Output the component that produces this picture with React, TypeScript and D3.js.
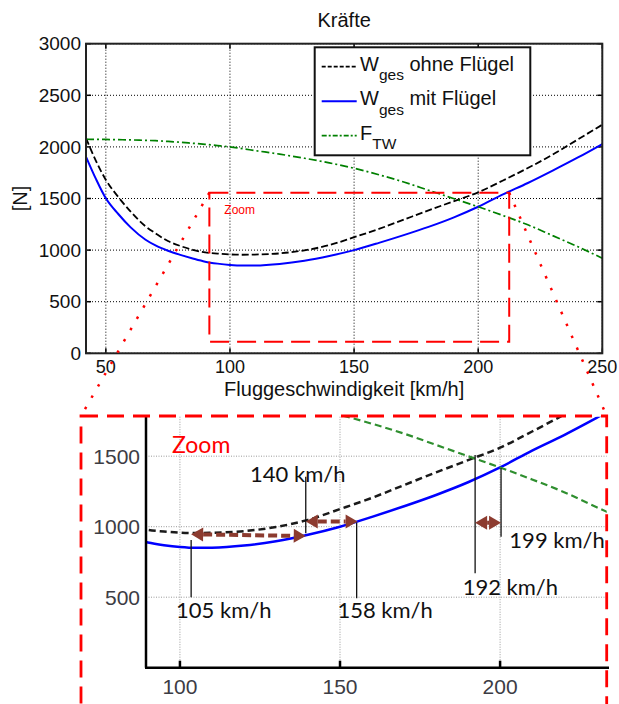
import React, { useEffect, useRef } from 'react';
import * as d3 from 'd3';

// Fluggeschwindigkeit [km/h]
const speeds = [42, 46, 50, 55, 60, 66, 70, 75, 80, 85, 90, 95, 100, 105, 110, 120, 130, 140, 150, 160, 170, 180, 190, 200, 210, 220, 230, 240, 250];
// W_ges ohne Flügel [N]
const wOhne = [2085, 1865, 1680, 1515, 1373, 1230, 1163, 1088, 1040, 1003, 977, 966, 958, 955, 957, 968, 998, 1048, 1125, 1205, 1295, 1385, 1472, 1560, 1675, 1795, 1925, 2070, 2215];
// W_ges mit Flügel [N]
const wMit = [1905, 1690, 1502, 1350, 1220, 1100, 1045, 994, 954, 919, 888, 869, 856, 850, 851, 866, 897, 943, 1000, 1070, 1145, 1225, 1315, 1420, 1540, 1650, 1770, 1895, 2028];
// F_TW [N]
const fTw = [2074, 2073, 2072, 2070, 2068, 2063, 2060, 2053, 2045, 2035, 2025, 2013, 2000, 1983, 1965, 1930, 1890, 1845, 1793, 1730, 1660, 1580, 1500, 1420, 1335, 1245, 1140, 1035, 921];

const xTicks = [50, 100, 150, 200, 250];
const yTicks = [0, 500, 1000, 1500, 2000, 2500, 3000];
const zoomXTicks = [100, 150, 200];
const zoomYTicks = [500, 1000, 1500];

// zoom window in data units (speed, force)
const zoomWindow = { x0: 91.7, x1: 212.5, y0: 112, y1: 1556 };

// annotations in the zoomed panel (speed / force units)
const markLabels = ['105 km/h', '140 km/h', '158 km/h', '192 km/h', '199 km/h'];
const markAt = [103.5, 139.3, 155.2, 192.2, 200.3];
const markTop = [905, 1355, 1030, 1508, 1414];
const markBottom = [500, 953, 492, 670, 929];
const labelAt = [98.8, 121.9, 149.2, 188.3, 202.9];
const labelY = [350, 1319, 350, 516, 847];

const arrowFrom = [[103.5, 946], [139.3, 1036], [192.2, 1028]];
const arrowTo = [[139.3, 934], [155.5, 1036], [200.3, 1028]];

const series = [
  { name: 'ohne', values: wOhne, color: '#000', dash: '7,3', width: 1.8 },
  { name: 'mit', values: wMit, color: '#0000ff', dash: null, width: 2 },
  { name: 'ftw', values: fTw, color: '#008000', dash: '8,3,2,3', width: 1.7 },
];

const App = () => {
  const ref = useRef<SVGSVGElement>(null);

  useEffect(() => {
    const svg = d3.select(ref.current);
    svg.selectAll('*').remove();
    const font = '"Liberation Sans", Arial, sans-serif';

    // ---------- main chart ----------
    const x = d3.scaleLinear().domain([42, 250]).range([86, 602.3]);
    const y = d3.scaleLinear().domain([0, 3000]).range([353.3, 43.7]);
    const [left, right] = x.range();
    const [bottom, top] = y.range();

    svg.append('text')
      .attr('x', (left + right) / 2).attr('y', 27)
      .attr('text-anchor', 'middle')
      .style('font', `20px ${font}`).attr('fill', '#111')
      .text('Kräfte');

    const grid = svg.append('g').attr('stroke', '#000').attr('stroke-width', 1).attr('stroke-dasharray', '1,2');
    xTicks.forEach(t => grid.append('line').attr('x1', x(t)).attr('x2', x(t)).attr('y1', top).attr('y2', bottom));
    yTicks.forEach(t => grid.append('line').attr('x1', left).attr('x2', right).attr('y1', y(t)).attr('y2', y(t)));

    const tk = svg.append('g').attr('stroke', '#000').attr('stroke-width', 1.5);
    xTicks.forEach(t => {
      tk.append('line').attr('x1', x(t)).attr('x2', x(t)).attr('y1', bottom).attr('y2', bottom - 5);
      tk.append('line').attr('x1', x(t)).attr('x2', x(t)).attr('y1', top).attr('y2', top + 5);
    });
    yTicks.forEach(t => {
      tk.append('line').attr('x1', left).attr('x2', left + 5).attr('y1', y(t)).attr('y2', y(t));
      tk.append('line').attr('x1', right).attr('x2', right - 5).attr('y1', y(t)).attr('y2', y(t));
    });

    svg.append('defs').html(`
      <clipPath id="mainClip"><rect x="${left}" y="${top}" width="${right - left}" height="${bottom - top}"/></clipPath>
      <clipPath id="zoomClip"><rect x="146" y="416.7" width="460.7" height="251"/></clipPath>`);

    const line = d3.line<number>().x((_, i) => x(speeds[i])).y(d => y(d)).curve(d3.curveMonotoneX);
    const lines = svg.append('g').attr('clip-path', 'url(#mainClip)');
    series.forEach(s => {
      lines.append('path')
        .attr('d', line(s.values))
        .attr('fill', 'none').attr('stroke', s.color).attr('stroke-width', s.width)
        .attr('stroke-dasharray', s.dash);
    });

    svg.append('rect')
      .attr('x', left).attr('y', top).attr('width', right - left).attr('height', bottom - top)
      .attr('fill', 'none').attr('stroke', '#222').attr('stroke-width', 2);

    const yl = svg.append('g').style('font', `19px ${font}`).attr('fill', '#111');
    yTicks.forEach(t => yl.append('text').attr('x', left - 5).attr('y', y(t)).attr('dy', '0.35em')
      .attr('text-anchor', 'end').text(t));
    xTicks.forEach(t => yl.append('text').attr('x', x(t)).attr('y', bottom + 20)
      .attr('text-anchor', 'middle').style('font-size', '18px').text(t));

    svg.append('text')
      .attr('x', (left + right) / 2).attr('y', 396)
      .attr('text-anchor', 'middle')
      .style('font', `20px ${font}`).attr('fill', '#111')
      .text('Fluggeschwindigkeit [km/h]');

    svg.append('text')
      .attr('transform', `translate(27,${(top + bottom) / 2}) rotate(-90)`)
      .attr('text-anchor', 'middle')
      .style('font', `20px ${font}`).attr('fill', '#111')
      .text('[N]');

    // legend
    const lg = svg.append('g');
    lg.append('rect').attr('x', 314.7).attr('y', 47.3).attr('width', 215.6).attr('height', 108)
      .attr('fill', '#fff').attr('stroke', '#111').attr('stroke-width', 2);
    const legendRows = [
      { s: series[0], main: 'W', sub: 'ges', rest: ' ohne Flügel', dash: '4,2' },
      { s: series[1], main: 'W', sub: 'ges', rest: ' mit Flügel', dash: null },
      { s: series[2], main: 'F', sub: 'TW', rest: '', dash: '5,2,2,2' },
    ];
    legendRows.forEach((r, i) => {
      const cy = 66.7 + i * 34.5;
      lg.append('line').attr('x1', 321.7).attr('x2', 356.7).attr('y1', cy).attr('y2', cy)
        .attr('stroke', r.s.color).attr('stroke-width', r.s.width)
        .attr('stroke-dasharray', r.dash);
      const t = lg.append('text').attr('x', 360).attr('y', cy + 4)
        .style('font', `20px ${font}`).attr('fill', '#111');
      t.append('tspan').text(r.main);
      t.append('tspan').attr('dy', 9.5).style('font-size', '15.5px').text(r.sub);
      if (r.rest) t.append('tspan').attr('dy', -9.5).text(r.rest);
    });

    // zoom frame in main plot
    svg.append('rect')
      .attr('x', x(zoomWindow.x0)).attr('y', y(zoomWindow.y1))
      .attr('width', x(zoomWindow.x1) - x(zoomWindow.x0)).attr('height', y(zoomWindow.y0) - y(zoomWindow.y1))
      .attr('fill', 'none').attr('stroke', '#ff0000').attr('stroke-width', 2).attr('stroke-dasharray', '19,8');
    svg.append('text')
      .attr('x', x(zoomWindow.x0) + 15).attr('y', y(zoomWindow.y1) + 21)
      .style('font', `12px ${font}`).attr('fill', '#ff0000')
      .text('Zoom');

    // ---------- zoomed panel ----------
    const ix = d3.scaleLinear().domain([89.4, 233.3]).range([146, 606.7]);
    const iy = d3.scaleLinear().domain([0, 1780]).range([667.7, 416.7]);
    const [il, ir] = ix.range();
    const [ib, it] = iy.range();

    const ig = svg.append('g').attr('stroke', '#9a9a9a').attr('stroke-width', 1).attr('stroke-dasharray', '1,1.5');
    zoomXTicks.forEach(t => ig.append('line').attr('x1', ix(t)).attr('x2', ix(t)).attr('y1', it).attr('y2', ib));
    zoomYTicks.forEach(t => ig.append('line').attr('x1', il).attr('x2', ir).attr('y1', iy(t)).attr('y2', iy(t)));

    const iline = d3.line<number>().x((_, i) => ix(speeds[i])).y(d => iy(d)).curve(d3.curveMonotoneX);
    const zl = svg.append('g').attr('clip-path', 'url(#zoomClip)');
    const zoomStyles = [
      { color: '#1a1a1a', dash: '7,4', width: 2.5 },
      { color: '#0000ff', dash: null, width: 2.5 },
      { color: '#2f8f2f', dash: '7,4', width: 2.2 },
    ];
    series.forEach((s, i) => {
      zl.append('path').attr('d', iline(s.values))
        .attr('fill', 'none').attr('stroke', zoomStyles[i].color).attr('stroke-width', zoomStyles[i].width)
        .attr('stroke-dasharray', zoomStyles[i].dash);
    });

    const ax = svg.append('g').attr('stroke', '#000').attr('stroke-width', 2.5);
    ax.append('line').attr('x1', il).attr('x2', il).attr('y1', it).attr('y2', ib);
    ax.append('line').attr('x1', il - 1).attr('x2', 609).attr('y1', ib).attr('y2', ib);
    zoomXTicks.forEach(t => ax.append('line').attr('x1', ix(t)).attr('x2', ix(t)).attr('y1', ib).attr('y2', ib - 7));

    const il2 = svg.append('g').style('font', `21px ${font}`).attr('fill', '#3c3c44');
    zoomYTicks.forEach(t => il2.append('text').attr('x', il - 6).attr('y', iy(t)).attr('dy', '0.36em')
      .attr('text-anchor', 'end').text(t));
    zoomXTicks.forEach(t => il2.append('text').attr('x', ix(t)).attr('y', ib + 26)
      .attr('text-anchor', 'middle').text(t));

    // annotation lines and labels
    const an = svg.append('g');
    markAt.forEach((m, i) => {
      an.append('line').attr('x1', ix(m)).attr('x2', ix(m)).attr('y1', iy(markTop[i])).attr('y2', iy(markBottom[i]))
        .attr('stroke', '#111').attr('stroke-width', 1.3);
      an.append('text').attr('x', ix(labelAt[i])).attr('y', iy(labelY[i]))
        .style('font', '22px Lato, "Open Sans", sans-serif').attr('fill', '#111')
        .text(markLabels[i]);
    });

    // double arrows
    const brown = '#8c3b2f';
    arrowFrom.forEach((f, i) => {
      const x1 = ix(f[0]), y1 = iy(f[1]);
      const x2 = ix(arrowTo[i][0]), y2 = iy(arrowTo[i][1]);
      const ang = Math.atan2(y2 - y1, x2 - x1);
      const hl = 12, hw = 7;
      an.append('line')
        .attr('x1', x1 + hl * Math.cos(ang)).attr('y1', y1 + hl * Math.sin(ang))
        .attr('x2', x2 - hl * Math.cos(ang)).attr('y2', y2 - hl * Math.sin(ang))
        .attr('stroke', brown).attr('stroke-width', 4)
        .attr('stroke-dasharray', x2 - x1 > 40 ? '9,4' : '6,3');
      const head = (tx: number, ty: number, dir: number) => {
        const bx = tx - dir * hl * Math.cos(ang), by = ty - dir * hl * Math.sin(ang);
        const px = -Math.sin(ang) * hw, py = Math.cos(ang) * hw;
        return `M${tx},${ty}L${bx + px},${by + py}L${bx - px},${by - py}Z`;
      };
      an.append('path').attr('d', head(x1, y1, -1)).attr('fill', brown);
      an.append('path').attr('d', head(x2, y2, 1)).attr('fill', brown);
    });

    svg.append('text')
      .attr('x', 172).attr('y', 453)
      .style('font', '23px Lato, "Open Sans", sans-serif').attr('fill', '#ff0000')
      .text('Zoom');

    // red panel frame and connectors
    svg.append('rect').attr('x', 81).attr('y', 416).attr('width', 525.7).attr('height', 320)
      .attr('fill', 'none').attr('stroke', '#ff0000').attr('stroke-width', 2.8).attr('stroke-dasharray', '17,9');

    const con = svg.append('g').attr('stroke', '#ff0000').attr('stroke-width', 2.5).attr('stroke-dasharray', '2.5,10.5');
    con.append('line').attr('x1', x(zoomWindow.x0)).attr('y1', y(zoomWindow.y1)).attr('x2', 81).attr('y2', 416);
    con.append('line').attr('x1', x(zoomWindow.x1)).attr('y1', y(zoomWindow.y1)).attr('x2', 606.7).attr('y2', 416);
  }, []);

  return <svg ref={ref} width={619} height={704}
    style={{ position: 'absolute', left: 0, top: 0, background: '#fff' }} />;
};

export default App;
